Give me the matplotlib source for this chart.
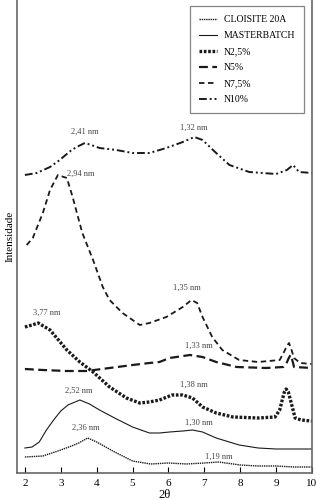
import matplotlib
matplotlib.use("Agg")
import matplotlib.pyplot as plt

plt.rcParams['font.family'] = ['Liberation Serif', 'DejaVu Serif']

# valores (2θ, intensidade em unidades arbitrárias)
cloisite_x = [2.0, 2.5, 3.0, 3.3, 3.5, 3.75, 4.0, 4.5, 5.0, 5.5, 6.0, 6.5, 7.0, 7.4, 8.0, 8.5, 9.0, 9.5, 10.0]
cloisite_y = [43, 44, 50, 54, 57, 62, 58, 48, 39, 36, 37, 36, 37, 38, 35, 34, 34, 33, 33]

master_x = [2.0, 2.2, 2.4, 2.6, 2.8, 3.0, 3.2, 3.53, 3.8, 4.08, 4.5, 5.0, 5.47, 5.75, 6.03, 6.4, 6.67, 6.95, 7.33, 7.97, 8.5, 9.0, 9.5, 10.0]
master_y = [52, 53, 58, 70, 80, 89, 95, 100, 96, 90, 82, 73, 67, 67, 68, 69, 70, 68, 62, 55, 52, 51, 51, 51]

n25_x = [2.0, 2.2, 2.37, 2.7, 3.17, 3.53, 3.9, 4.36, 4.83, 5.2, 5.47, 5.75, 6.1, 6.4, 6.67, 6.95, 7.33, 7.8, 8.5, 8.97, 9.1, 9.17, 9.23, 9.28, 9.34, 9.4, 9.53, 9.7, 10.0]
n25_y = [173, 175, 177, 170, 150, 138, 128, 113, 102, 97, 98, 100, 105, 105, 102, 93, 87, 83, 82, 83, 90, 100, 108, 111, 108, 100, 82, 80, 79]

n5_x = [2.0, 2.5, 3.17, 3.72, 4.36, 5.0, 5.47, 5.75, 6.03, 6.6, 6.95, 7.33, 7.9, 8.72, 9.2, 9.28, 9.34, 9.4, 9.45, 9.5, 10.0]
n5_y = [131, 130, 129, 129, 132, 135, 137, 138, 142, 145, 143, 138, 133, 132, 133, 136, 141, 145, 140, 133, 132]

n75_x = [2.05, 2.22, 2.5, 2.7, 2.92, 3.17, 3.33, 3.6, 3.9, 4.17, 4.36, 4.72, 5.2, 5.47, 5.94, 6.4, 6.64, 6.8, 6.95, 7.22, 7.5, 7.97, 8.5, 9.1, 9.22, 9.3, 9.36, 9.43, 9.5, 9.67, 10.0]
n75_y = [255, 262, 287, 310, 325, 322, 303, 267, 240, 213, 200, 187, 175, 177, 183, 193, 200, 197, 183, 163, 150, 140, 138, 140, 148, 154, 157, 150, 142, 137, 136]

n10_x = [2.0, 2.33, 2.7, 2.97, 3.3, 3.5, 3.67, 3.85, 4.08, 4.55, 5.0, 5.47, 5.94, 6.4, 6.72, 6.95, 7.33, 7.7, 8.25, 9.0, 9.3, 9.47, 9.64, 10.0]
n10_y = [325, 327, 333, 340, 350, 354, 357, 355, 352, 350, 347, 347, 352, 358, 363, 360, 347, 335, 328, 326, 330, 335, 328, 327]

series_labels = ["CLOISITE 20A", "MASTERBATCH", "N2,5%", "N5%", "N7,5%", "N10%"]

# anotações de espaçamento basal (texto, 2θ, intensidade)
peak_labels = ["2,41 nm", "1,32 nm", "2,94 nm", "1,35 nm", "3,77 nm", "1,33 nm", "1,38 nm", "2,52 nm", "1,30 nm", "2,36 nm", "1,19 nm"]
peak_x = [3.67, 6.72, 3.55, 6.5, 2.6, 6.85, 6.7, 3.5, 6.85, 3.7, 7.4]
peak_y = [368, 372, 326, 212, 187, 154, 115, 109, 77, 72, 43]

fig = plt.figure(figsize=(3.16, 5.0), dpi=100)
ax = fig.add_axes([17 / 316, 27 / 500, 295 / 316, 473 / 500])

c = "#1a1a1a"
ax.plot(cloisite_x, cloisite_y, color=c, lw=1.0, ls=(0, (1, 0.6)), label=series_labels[0])
ax.plot(master_x, master_y, color=c, lw=0.8, ls="-", label=series_labels[1])
ax.plot(n25_x, n25_y, color=c, lw=2.4, ls=(0, (0.8, 0.5)), label=series_labels[2])
ax.plot(n5_x, n5_y, color=c, lw=1.6, ls=(0, (4, 2)), label=series_labels[3])
ax.plot(n75_x, n75_y, color=c, lw=1.3, ls=(0, (3, 2)), label=series_labels[4])
ax.plot(n10_x, n10_y, color=c, lw=1.4, ls=(0, (4, 1.5, 1, 1.5, 1, 1.5)), label=series_labels[5])

for t, x, y in zip(peak_labels, peak_x, peak_y):
    ax.text(x, y, t, fontsize=6, color="#444444", ha="center", va="center")

ax.set_xlim(1.78, 10.0)
ax.set_ylim(27, 500)
ax.set_xticks(range(2, 11))
ax.set_yticks([])
ax.tick_params(axis="x", direction="in", length=4, labelsize=8, pad=4)
ax.spines["top"].set_visible(False)
for s in ["left", "right", "bottom"]:
    ax.spines[s].set_color("#666666")
    ax.spines[s].set_linewidth(1.2)
ax.set_xlabel("2θ", fontsize=9, labelpad=1)
ax.set_ylabel("Intensidade", fontsize=8, labelpad=2)

leg = ax.legend(loc="upper right", bbox_to_anchor=(0.99, 0.997), fontsize=7, frameon=True,
                fancybox=False, edgecolor="#666666", handlelength=1.9, labelspacing=0.72,
                borderpad=0.9, handletextpad=0.7)
leg.get_frame().set_linewidth(0.9)

plt.savefig("out.png", dpi=100)
